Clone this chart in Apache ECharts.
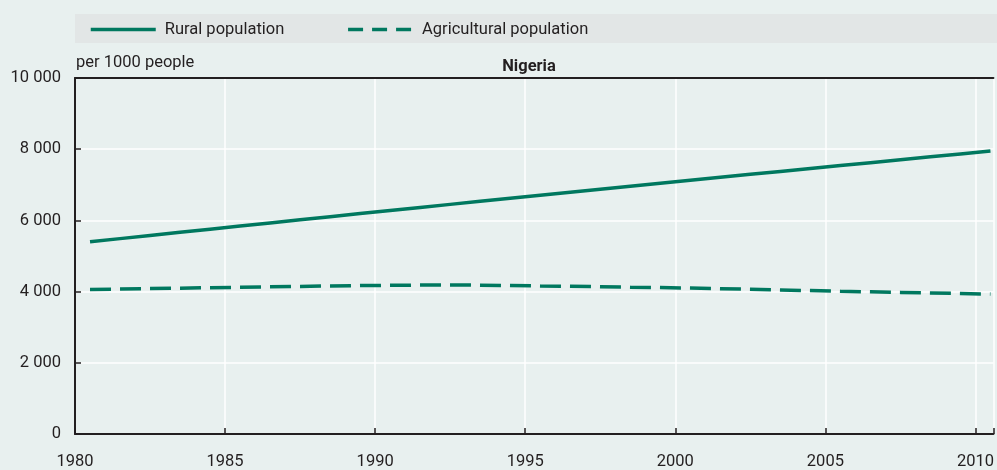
<!DOCTYPE html>
<html>
<head>
<meta charset="utf-8">
<script src="https://cdn.jsdelivr.net/npm/echarts@6/dist/echarts.min.js"></script>
<style>
  html, body { margin: 0; padding: 0; background: #e8f0ef; }
  #chart { width: 997px; height: 470px; }
</style>
</head>
<body>
<div id="chart"></div>
<script>
// years (values are mid-year, drawn half a year after the tick)
const years = [];
for (let y = 1980; y <= 2010; y++) years.push(y);

const rural = [5400, 5488, 5576, 5664, 5752, 5840, 5928, 6016, 6104, 6192,
               6280, 6365, 6450, 6535, 6620, 6705, 6790, 6875, 6960, 7045,
               7130, 7212, 7294, 7376, 7458, 7540, 7622, 7704, 7786, 7868, 7950];
const agricultural = [4060, 4072, 4085, 4097, 4109, 4120, 4133, 4146, 4158, 4168,
                      4176, 4182, 4184, 4181, 4172, 4160, 4150, 4137, 4124, 4112,
                      4100, 4082, 4064, 4046, 4028, 4010, 3994, 3978, 3962, 3946, 3930];

const seriesNames = ['Rural population', 'Agricultural population'];
const green = '#00785f';
const ink = '#231f20';
const font = 'Roboto, sans-serif';
const fs = 16.5;

function spaced(v) {
  return String(v).replace(/\B(?=(\d{3})+(?!\d))/g, ' ');
}

let chart = echarts.init(document.getElementById('chart'));
chart.setOption({
  backgroundColor: '#e8f0ef',
  animation: false,
  textStyle: { fontFamily: font, color: ink },
  graphic: [
    { type: 'rect', z: 0, shape: { x: 75, y: 14, width: 922, height: 29 }, style: { fill: '#e2e6e6' } },
    { type: 'text', left: 76, top: 54, style: { text: 'per 1000 people', font: fs + 'px ' + font, fill: ink } }
  ],
  title: {
    text: 'Nigeria',
    left: 524, top: 53,
    textAlign: 'center',
    textStyle: { fontFamily: font, fontSize: fs, fontWeight: 'bold', color: ink }
  },
  legend: {
    left: 84, top: 16,
    itemWidth: 65, itemHeight: 14, itemGap: 62,
    itemStyle: { opacity: 0 },
    textStyle: { fontFamily: font, fontSize: fs, color: ink, padding: [0, 0, 0, 4] },
    data: [
      { name: seriesNames[0], lineStyle: { width: 3.5 } },
      { name: seriesNames[1], lineStyle: { width: 3.5, type: [15, 9] } }
    ]
  },
  grid: { left: 75, right: 0, top: 78, bottom: 34 },
  xAxis: [{
    type: 'value',
    min: 1980, max: 2010.6, interval: 5,
    axisLine: { lineStyle: { color: ink, width: 2 } },
    axisTick: { inside: true, length: 6, lineStyle: { color: ink, width: 1.5 } },
    axisLabel: {
      fontFamily: font, fontSize: fs, color: ink, margin: 19,
      formatter: v => (v % 5 === 0 ? String(v) : '')
    },
    splitLine: { show: true, lineStyle: { color: '#ffffff', width: 1.5 } }
  }, {
    type: 'value', position: 'top',
    min: 1980, max: 2010.6,
    axisLine: { show: true, lineStyle: { color: ink, width: 2 } },
    axisTick: { show: false }, axisLabel: { show: false }, splitLine: { show: false }
  }],
  yAxis: {
    type: 'value',
    min: 0, max: 10000, interval: 2000,
    axisLine: { show: true, lineStyle: { color: ink, width: 2 } },
    axisTick: { show: true, inside: true, length: 6, lineStyle: { color: ink, width: 1.5 } },
    axisLabel: { fontFamily: font, fontSize: fs, color: ink, margin: 14, formatter: spaced },
    splitLine: { show: true, lineStyle: { color: '#ffffff', width: 1.5 } }
  },
  series: [
    {
      name: seriesNames[0],
      type: 'line',
      symbol: 'none',
      lineStyle: { color: green, width: 3.5 },
      itemStyle: { color: green },
      data: years.map((y, i) => [y + 0.5, rural[i]])
    },
    {
      name: seriesNames[1],
      type: 'line',
      symbol: 'none',
      lineStyle: { color: green, width: 3.5, type: [21, 9] },
      itemStyle: { color: green },
      data: years.map((y, i) => [y + 0.5, agricultural[i]])
    }
  ]
});
window.onresize = function () {
  chart.resize();
};
</script>
</body>
</html>
